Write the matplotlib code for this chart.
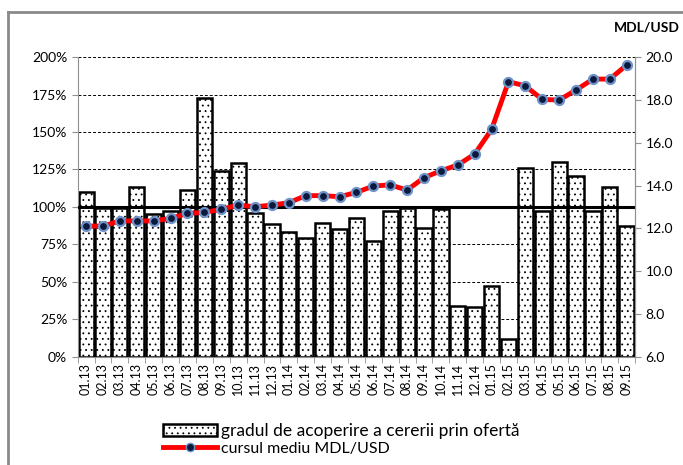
import matplotlib

matplotlib.use("Agg")
import matplotlib.pyplot as plt
import numpy as np
from matplotlib.lines import Line2D
from matplotlib.patches import Patch
from matplotlib.ticker import FuncFormatter, MultipleLocator

plt.rcParams["font.family"] = ["Lato", "DejaVu Sans"]
plt.rcParams["hatch.linewidth"] = 0.6

# months 01.13 .. 09.15
months = [f"{m:02d}.{y}" for y in (13, 14) for m in range(1, 13)] + [f"{m:02d}.15" for m in range(1, 10)]

# gradul de acoperire a cererii prin oferta, %
coverage = [110, 99.5, 99, 113, 95, 97.5, 111, 173, 124, 129.5, 96, 88.5,
            83.5, 79, 89.5, 85.3, 92.4, 77, 97, 99.5, 86, 98.5, 34, 33,
            47.5, 12, 126, 97, 130, 120.5, 97.5, 113, 87.5]

# cursul mediu MDL/USD
rate = [12.11, 12.11, 12.35, 12.35, 12.35, 12.47, 12.70, 12.75, 12.89, 13.09, 13.01, 13.09,
        13.20, 13.53, 13.53, 13.48, 13.68, 13.98, 14.03, 13.79, 14.37, 14.69, 14.96, 15.47,
        16.62, 18.85, 18.65, 18.02, 17.99, 18.46, 18.97, 18.97, 19.63]

bar_label = "gradul de acoperire a cererii prin ofertă"
line_label = "cursul mediu MDL/USD"

fig = plt.figure(figsize=(6.83, 4.65), dpi=100)
ax = fig.add_axes([0.1137, 0.2323, 0.8163, 0.6451])

x = np.arange(len(months))
ax.bar(x, coverage, width=0.9, color="white", edgecolor="black", linewidth=1.8,
       hatch="...", zorder=2)
ax.axhline(100, color="black", linewidth=2.2, zorder=4)

ax.set_xlim(-0.5, len(months) - 0.5)
ax.set_ylim(0, 200)
ax.yaxis.set_major_locator(MultipleLocator(25))
ax.yaxis.set_major_formatter(FuncFormatter(lambda v, _: f"{v:.0f}%"))
ax.grid(axis="y", color="black", linestyle=(0, (3, 2)), linewidth=0.7, zorder=0)
ax.set_axisbelow(True)

ax.set_xticks(x)
ax.set_xticklabels(months, rotation=90, fontsize=9)
ax.set_xticks(np.arange(-0.5, len(months)), minor=True)
ax.tick_params(axis="x", which="major", length=0, pad=4)
ax.tick_params(axis="x", which="minor", length=4, color="#909090")
ax.tick_params(axis="y", labelsize=10, length=4, color="#909090")

ax.spines["top"].set_visible(False)
for side in ("left", "bottom", "right"):
    ax.spines[side].set_color("#909090")

ax2 = ax.twinx()
ax2.plot(x, rate, color="#ff0000", linewidth=3.5, marker="o", markersize=6.5,
         markerfacecolor="#0b1a3c", markeredgecolor="#6f93c8", markeredgewidth=1.6, zorder=5)
ax2.set_ylim(6, 20)
ax2.yaxis.set_major_locator(MultipleLocator(2))
ax2.yaxis.set_major_formatter(FuncFormatter(lambda v, _: f"{v:.1f}"))
ax2.tick_params(axis="y", labelsize=10, length=4, color="#909090")
ax2.spines["top"].set_visible(False)
ax2.spines["right"].set_color("#909090")
ax2.spines["left"].set_visible(False)
ax2.spines["bottom"].set_visible(False)

fig.text(0.995, 0.94, "MDL/USD", ha="right", va="center", fontsize=10, fontweight="bold")

handles = [
    Patch(facecolor="white", edgecolor="black", linewidth=1.8, hatch="..."),
    Line2D([0], [0], color="#ff0000", linewidth=3.5, marker="o", markersize=6,
           markerfacecolor="#0b1a3c", markeredgecolor="#6f93c8"),
]
leg = fig.legend(handles, [bar_label, line_label], loc="upper left", bbox_to_anchor=(0.2387, 0.090),
                 frameon=False, fontsize=12.5, handlelength=3.1, handletextpad=0.25,
                 labelspacing=0.1, borderaxespad=0, borderpad=0)
leg.get_texts()[1].set_fontsize(11.5)

# outer frame (top and left edges visible in the crop)
fig.add_artist(Line2D([0.012, 1.0], [0.974, 0.974], color="#8a8a8a", linewidth=2,
                      transform=fig.transFigure))
fig.add_artist(Line2D([0.012, 0.012], [0.0, 0.974], color="#8a8a8a", linewidth=2,
                      transform=fig.transFigure))

fig.savefig("out.png", dpi=100)
